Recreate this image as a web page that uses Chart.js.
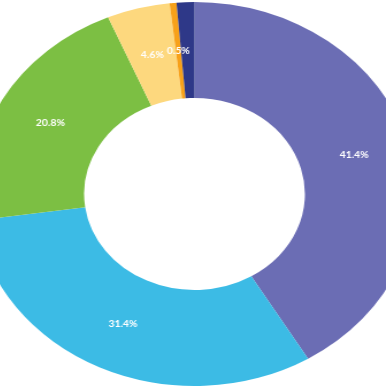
<!DOCTYPE html>
<html><head><meta charset="utf-8">
<script src="https://cdn.jsdelivr.net/npm/chart.js@4"></script>
<style>
html,body{margin:0;padding:0;background:#fff;overflow:hidden;}
#wrap{position:relative;width:386px;height:388px;overflow:hidden;}
#c{position:absolute;left:0;top:0;width:386px;height:388px;transform:scaleX(1.15);transform-origin:194.5px 194px;}
</style></head><body>
<div id="wrap"><canvas id="c" width="386" height="388"></canvas></div>
<script>
const categories = ['Segment 1','Segment 2','Segment 3','Segment 4','Segment 5','Segment 6'];
const values = [41.4, 31.4, 20.8, 4.6, 0.5, 1.3];
const valueLabels = ['41.4%','31.4%','20.8%','4.6%','0.5%',''];
const colors = ['#6b6db4','#3cbbe5','#7cbf43','#fdd87e','#f7a11a','#2e3888'];

const labelPlugin = {
  id: 'pctLabels',
  afterDatasetsDraw(chart) {
    const ctx = chart.ctx;
    const meta = chart.getDatasetMeta(0);
    ctx.save();
    ctx.fillStyle = '#ffffff';
    ctx.font = 'bold 9px Lato';
    ctx.textAlign = 'center';
    ctx.textBaseline = 'middle';
    meta.data.forEach((arc, i) => {
      if (!valueLabels[i]) return;
      const p = arc.tooltipPosition();
      ctx.fillText(valueLabels[i], p.x, p.y);
    });
    ctx.restore();
  }
};

new Chart(document.getElementById('c'), {
  type: 'doughnut',
  data: {
    labels: categories,
    datasets: [{
      data: values,
      backgroundColor: colors,
      borderWidth: 0,
      hoverOffset: 0
    }]
  },
  options: {
    responsive: false,
    animation: false,
    cutout: '50%',
    radius: 192,
    layout: { padding: { left: 3, top: 0, right: 0, bottom: 0 } },
    plugins: { legend: { display: false }, tooltip: { enabled: false } }
  },
  plugins: [labelPlugin]
});
</script>
</body></html>
